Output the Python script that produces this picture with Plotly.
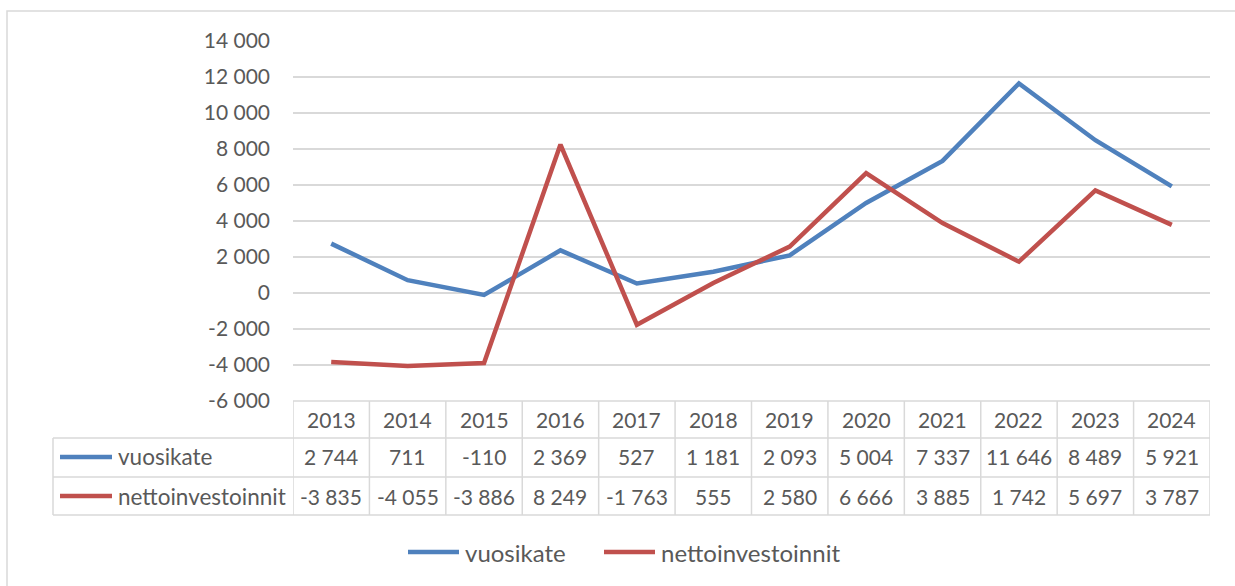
import plotly.graph_objects as go

years = ["2013", "2014", "2015", "2016", "2017", "2018", "2019", "2020", "2021", "2022", "2023", "2024"]
vuosikate = [2744, 711, -110, 2369, 527, 1181, 2093, 5004, 7337, 11646, 8489, 5921]
nettoinvestoinnit = [-3835, -4055, -3886, 8249, -1763, 555, 2580, 6666, 3885, 1742, 5697, 3787]
series_names = ["vuosikate", "nettoinvestoinnit"]
colors = ["#4F81BD", "#C0504D"]
tick_vals = [-6000, -4000, -2000, 0, 2000, 4000, 6000, 8000, 10000, 12000, 14000]
tick_text = ["-6 000", "-4 000", "-2 000", "0", "2 000", "4 000", "6 000", "8 000", "10 000", "12 000", "14 000"]

FONT = "Lato"
TXT = "#595959"
GRID = "#D9D9D9"
NUM_SIZE = 21
LABEL_SIZE = 22.5
LEGEND_SIZE = 24

W, H = 1235, 586
L, R, T, B = 293, 25, 41, 185
PW, PH = W - L - R, H - T - B

def py(pix):  # pixel from top -> paper y
    return (H - B - pix) / PH

def px(pix):  # pixel from left -> paper x
    return (pix - L) / PW

def fmt(v):
    return f"{v:,}".replace(",", " ")

xs = list(range(len(years)))
fig = go.Figure()
for name, vals, c in zip(series_names, [vuosikate, nettoinvestoinnit], colors):
    fig.add_trace(go.Scatter(x=xs, y=vals, mode="lines", name=name,
                             line=dict(color=c, width=4.5), showlegend=False,
                             hoverinfo="skip"))

shapes = []
ann = []
# outer chart border
shapes.append(dict(type="rect", xref="paper", yref="paper", x0=px(7), x1=px(1245),
                   y0=py(600), y1=py(11), line=dict(color=GRID, width=1.5), layer="below"))

# table geometry
row_lines = [401, 438, 477, 515]
row_centers = [419, 457, 496]
left_px = 53
shapes.append(dict(type="line", xref="x", yref="paper", x0=-0.5, x1=len(years) - 0.5,
                   y0=py(401), y1=py(401), line=dict(color=GRID, width=1.5)))
for r in row_lines[1:]:
    shapes.append(dict(type="line", xref="paper", yref="paper", x0=px(left_px), x1=1,
                       y0=py(r), y1=py(r), line=dict(color=GRID, width=1.5)))
for k in range(len(years) + 1):
    shapes.append(dict(type="line", xref="x", yref="paper", x0=k - 0.5, x1=k - 0.5,
                       y0=py(401), y1=py(515), line=dict(color=GRID, width=1.5)))
shapes.append(dict(type="line", xref="paper", yref="paper", x0=px(left_px), x1=px(left_px),
                   y0=py(438), y1=py(515), line=dict(color=GRID, width=1.5)))

# header
for i, yv in enumerate(years):
    ann.append(dict(x=i, y=py(row_centers[0]), xref="x", yref="paper", text=yv,
                    showarrow=False, xanchor="center", yanchor="middle",
                    font=dict(family=FONT, size=NUM_SIZE, color=TXT)))
# rows
for ri, (name, vals, c) in enumerate(zip(series_names, [vuosikate, nettoinvestoinnit], colors)):
    yc = py(row_centers[ri + 1])
    for i, v in enumerate(vals):
        ann.append(dict(x=i, y=yc, xref="x", yref="paper", text=fmt(v), showarrow=False,
                        xanchor="center", yanchor="middle",
                        font=dict(family=FONT, size=NUM_SIZE, color=TXT)))
    shapes.append(dict(type="line", xref="paper", yref="paper", x0=px(60), x1=px(112),
                       y0=yc, y1=yc, line=dict(color=c, width=4.5)))
    ann.append(dict(x=px(116), y=yc, xref="paper", yref="paper", text=name, showarrow=False,
                    xanchor="left", yanchor="middle",
                    font=dict(family=FONT, size=LABEL_SIZE, color=TXT)))

# legend
leg = [(408, 459, 463), (604, 655, 659)]
for (a, b, t), name, c in zip(leg, series_names, colors):
    shapes.append(dict(type="line", xref="paper", yref="paper", x0=px(a), x1=px(b),
                       y0=py(552), y1=py(552), line=dict(color=c, width=4.5)))
    ann.append(dict(x=px(t), y=py(552), xref="paper", yref="paper", text=name, showarrow=False,
                    xanchor="left", yanchor="middle",
                    font=dict(family=FONT, size=LEGEND_SIZE, color=TXT)))

fig.update_layout(
    width=W, height=H,
    margin=dict(l=L, r=R, t=T, b=B),
    plot_bgcolor="white", paper_bgcolor="white",
    shapes=shapes, annotations=ann,
    xaxis=dict(range=[-0.5, len(years) - 0.5], showgrid=False, zeroline=False,
               showticklabels=False, showline=False, fixedrange=True),
    yaxis=dict(range=[-6000, 14000], tickvals=tick_vals, ticktext=tick_text,
               showgrid=True, gridcolor=GRID, gridwidth=1.5, zeroline=False,
               showline=False, ticks="", ticklabelstandoff=22,
               tickfont=dict(family=FONT, size=NUM_SIZE, color=TXT), fixedrange=True),
    showlegend=False,
)

fig.write_html("out.html", config={"staticPlot": True},
               post_script="document.body.style.margin='0';document.body.style.overflow='hidden';")
